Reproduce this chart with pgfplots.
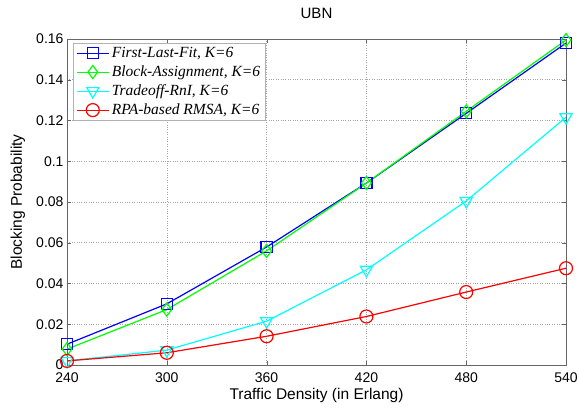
\documentclass[border=0pt]{standalone}
\usepackage{pgfplots}
\pgfplotsset{compat=1.18}
\usepackage{fontspec}
\setmainfont{Liberation Sans}
\newfontfamily\legfont{Liberation Serif}
\definecolor{mblue}{RGB}{0,0,255}
\definecolor{mgreen}{RGB}{0,255,0}
\definecolor{mcyan}{RGB}{0,255,255}
\definecolor{mred}{RGB}{255,0,0}
\begin{document}
\begin{tikzpicture}
\begin{axis}[
  scale only axis,
  width=499pt, height=326pt,
  xmin=240, xmax=540, ymin=0, ymax=0.16,
  xtick={240,300,360,420,480,540},
  ytick={0,0.02,0.04,0.06,0.08,0.1,0.12,0.14,0.16},
  yticklabels={0,0.02,0.04,0.06,0.08,0.1,0.12,0.14,0.16},
  /pgf/number format/assume math mode=true,
  tick label style={font=\fontsize{14}{16}\selectfont},
  xticklabel style={anchor=base, yshift=-18pt},
  label style={font=\fontsize{15.5}{18}\selectfont},
  title style={font=\fontsize{15}{17}\selectfont, at={(0.5,1)}, anchor=base, yshift=14pt},
  title={UBN},
  xlabel={Traffic Density (in Erlang)},
  ylabel={Blocking Probability},
  xlabel style={at={(axis description cs:0.5,0)}, anchor=base, yshift=-35pt},
  ylabel style={at={(axis description cs:-0.0902,0.5)}, anchor=base},
  grid=major,
  major grid style={dotted, gray!70, line width=0.5pt},
  axis line style={gray!80!black},
  tick style={gray!80!black},
  tick align=inside,
  xtick pos=both, ytick pos=both,
  legend style={at={(axis description cs:0.012,0.988)}, anchor=north west,
    font=\legfont\itshape\fontsize{15.5}{17}\selectfont, draw=gray!60,
    nodes={inner sep=1pt, inner xsep=2.5pt, text height=11pt, text depth=3pt}, row sep=3pt, inner xsep=3pt, inner ysep=2pt},
  legend cell align=left,
  legend image code/.code={\draw[mark repeat=2,mark phase=2] plot coordinates {(0pt,0pt) (16pt,0pt) (32pt,0pt)};},
  every axis plot/.append style={line width=1.2pt, mark options={solid, line width=1.2pt}},
]
\addplot[mblue, mark=square, mark size=5.5pt] coordinates {(240,0.0102) (300,0.0300) (360,0.0579) (420,0.0893) (480,0.1235) (540,0.1580)};
\addlegendentry{First-Last-Fit, K=6}
\addplot[mgreen, mark=diamond, mark size=6.5pt] coordinates {(240,0.0078) (300,0.0272) (360,0.0560) (420,0.0893) (480,0.1245) (540,0.1595)};
\addlegendentry{Block-Assignment, K=6}
\addplot[mcyan, mark=triangle, mark options={rotate=180}, mark size=7pt] coordinates {(240,0.0020) (300,0.0073) (360,0.0215) (420,0.0467) (480,0.0805) (540,0.1216)};
\addlegendentry{Tradeoff-RnI, K=6}
\addplot[mred, mark=o, mark size=6.5pt] coordinates {(240,0.0020) (300,0.0060) (360,0.0141) (420,0.0238) (480,0.0358) (540,0.0475)};
\addlegendentry{RPA-based RMSA, K=6}
\end{axis}
\pgfresetboundingbox
\path ([shift={(-67pt,-43pt)}]current axis.south west) rectangle ([shift={(13pt,39pt)}]current axis.north east);
\end{tikzpicture}
\end{document}
